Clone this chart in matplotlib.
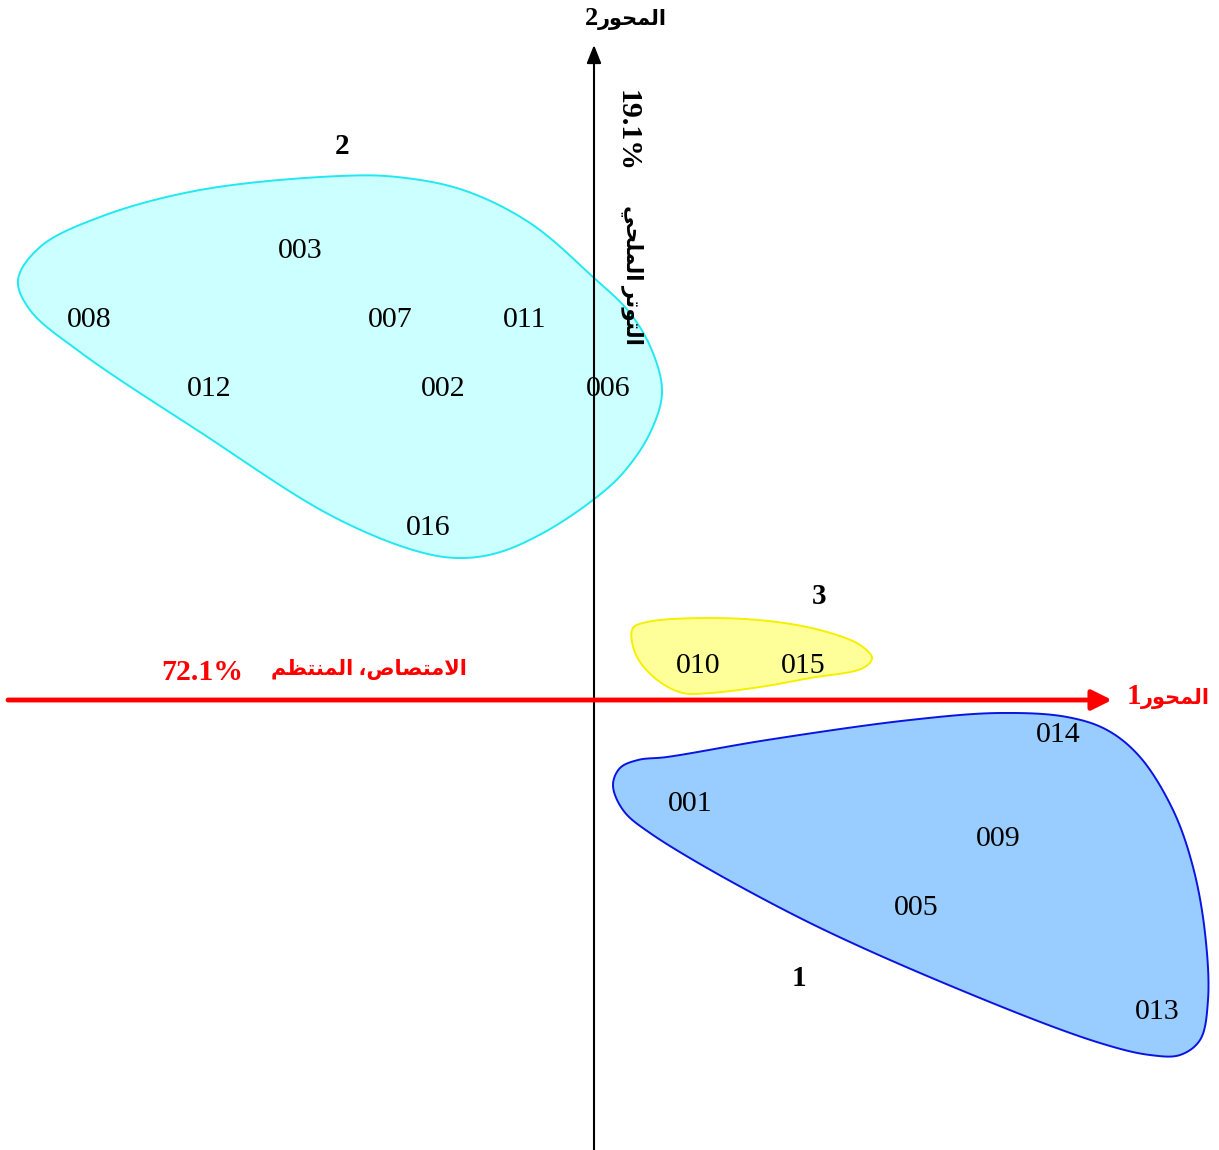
import numpy as np
import matplotlib
matplotlib.use("Agg")
import matplotlib.pyplot as plt
from matplotlib.patches import Polygon

# individuals on the first factorial plane (axis1, axis2)
names = ["003", "008", "007", "011", "012", "002", "006", "016",
         "010", "015", "014", "001", "009", "005", "013"]
axis1 = [-2.94, -5.05, -2.04, -0.69, -3.85, -1.51, 0.14, -1.66,
         1.04, 2.09, 4.64, 0.96, 4.04, 3.22, 5.63]
axis2 = [4.49, 3.80, 3.80, 3.80, 3.11, 3.11, 3.11, 1.72,
         0.34, 0.34, -0.35, -1.04, -1.39, -2.08, -3.12]

# group labels
group_names = ["1", "2", "3"]
group_x = [2.05, -2.52, 2.25]
group_y = [-2.78, 5.53, 1.03]

# hand drawn envelopes around each group
hull_1 = [(0.44, -0.60), (0.73, -0.57), (1.73, -0.40), (3.16, -0.20), (4.06, -0.13),
          (4.73, -0.17), (5.13, -0.30), (5.46, -0.57), (5.79, -1.10), (5.99, -1.67),
          (6.11, -2.33), (6.14, -3.00), (6.06, -3.40), (5.86, -3.55), (5.56, -3.55),
          (5.06, -3.43), (3.86, -2.98), (2.06, -2.18), (0.56, -1.33), (0.29, -1.10),
          (0.19, -0.85), (0.26, -0.68)]
hull_2 = [(-5.76, 4.20), (-5.54, 4.53), (-4.94, 4.83), (-3.94, 5.10), (-2.54, 5.24),
          (-1.97, 5.23), (-1.31, 5.10), (-0.64, 4.77), (-0.01, 4.23), (0.36, 3.87),
          (0.59, 3.47), (0.68, 3.07), (0.56, 2.67), (0.29, 2.27), (-0.01, 2.00),
          (-0.51, 1.67), (-0.97, 1.47), (-1.37, 1.42), (-1.81, 1.50), (-2.64, 1.85),
          (-3.94, 2.68), (-5.14, 3.48), (-5.64, 3.90)]
hull_3 = [(0.39, 0.72), (0.53, 0.78), (1.16, 0.82), (1.83, 0.78), (2.33, 0.68),
          (2.66, 0.55), (2.78, 0.42), (2.69, 0.32), (2.16, 0.22), (1.66, 0.13),
          (1.16, 0.07), (0.89, 0.07), (0.66, 0.18), (0.46, 0.38), (0.38, 0.58)]

inertia_1 = "72.1%"
inertia_2 = "19.1%"

# arabic strings already shaped (presentation forms) and in visual order
mihwar = "\ufead\ufeee\ufea4\ufee4\ufedf\ufe8d"             # المحور
imtisas = "\ufeb9\ufe8e\ufebc\ufe98\ufee3\ufefb\ufe8d"       # الامتصاص
muntadhim = "\ufee2\ufec8\ufe98\ufee8\ufee4\ufedf\ufe8d"     # المنتظم
tawattur = "\ufeae\ufe97\ufeee\ufe98\ufedf\ufe8d"            # التوتر
milhi = "\ufef2\ufea4\ufee0\ufee4\ufedf\ufe8d"               # الملحي


def closed_spline(pts, n=25):
    """Periodic centripetal Catmull-Rom curve through the points."""
    p = np.array(pts, dtype=float)
    m = len(p)
    out = []
    for i in range(m):
        p0, p1, p2, p3 = p[i - 1], p[i], p[(i + 1) % m], p[(i + 2) % m]
        t0 = 0.0
        t1 = t0 + np.linalg.norm(p1 - p0) ** 0.5
        t2 = t1 + np.linalg.norm(p2 - p1) ** 0.5
        t3 = t2 + np.linalg.norm(p3 - p2) ** 0.5
        t = np.linspace(t1, t2, n, endpoint=False)[:, None]
        a1 = (t1 - t) / (t1 - t0) * p0 + (t - t0) / (t1 - t0) * p1
        a2 = (t2 - t) / (t2 - t1) * p1 + (t - t1) / (t2 - t1) * p2
        a3 = (t3 - t) / (t3 - t2) * p2 + (t - t2) / (t3 - t2) * p3
        b1 = (t2 - t) / (t2 - t0) * a1 + (t - t0) / (t2 - t0) * a2
        b2 = (t3 - t) / (t3 - t1) * a2 + (t - t1) / (t3 - t1) * a3
        out.append((t2 - t) / (t2 - t1) * b1 + (t - t1) / (t2 - t1) * b2)
    return np.vstack(out)


fam = ["Liberation Serif", "DejaVu Sans"]

fig = plt.figure(figsize=(12.19, 11.5), dpi=100)
ax = fig.add_axes([0, 0, 1, 1])
ax.set_xlim(-5.94, 6.25)
ax.set_ylim(-4.5, 7.0)
ax.axis("off")

# envelopes
for hull, fc, ec in [(hull_2, "#ccffff", "#22e8f0"),
                     (hull_3, "#ffff99", "#f5f000"),
                     (hull_1, "#99ccff", "#0a14e0")]:
    ax.add_patch(Polygon(closed_spline(hull), closed=True, facecolor=fc,
                         edgecolor=ec, lw=1.4, zorder=1))

# axes
ax.annotate("", xy=(0, 6.55), xytext=(0, -4.5),
            arrowprops=dict(arrowstyle="-|>,head_length=0.55,head_width=0.22",
                            color="black", lw=1.5, mutation_scale=20,
                            shrinkA=0, shrinkB=0), zorder=2)
ax.annotate("", xy=(5.18, 0), xytext=(-5.86, 0),
            arrowprops=dict(arrowstyle="-|>,head_length=0.6,head_width=0.3",
                            color="red", lw=3.5, mutation_scale=20,
                            shrinkA=0, shrinkB=0), zorder=3)

# individuals
for nm, x, y in zip(names, axis1, axis2):
    ax.text(x, y, nm, family=fam, fontsize=21.5, ha="center", va="center", zorder=4)

for nm, x, y in zip(group_names, group_x, group_y):
    ax.text(x, y, nm, family=fam, fontsize=21, weight="bold",
            ha="center", va="center", zorder=4)

# axis titles
ax.text(0.04, 6.75, "2", family=fam, fontsize=19, weight="bold",
        ha="right", va="baseline")
ax.text(0.04, 6.75, mihwar, family=fam, fontsize=15, weight="bold",
        ha="left", va="baseline")
ax.text(5.47, -0.04, "1", family=fam, fontsize=21, weight="bold",
        color="red", ha="right", va="baseline")
ax.text(5.47, -0.04, mihwar, family=fam, fontsize=15, weight="bold",
        color="red", ha="left", va="baseline")
ax.text(-3.92, 0.28, inertia_1, family=fam, fontsize=21.5, weight="bold",
        color="red", ha="center", va="center")
ax.text(-2.25, 0.30, muntadhim + " \u060c" + imtisas, family=fam, fontsize=15,
        weight="bold", color="red", ha="center", va="center")
ax.text(0.33, 5.69, inertia_2, family=fam, fontsize=21.5, weight="bold",
        rotation=-90, ha="center", va="center")
ax.text(0.38, 4.25, milhi + " " + tawattur, family=fam, fontsize=15.5,
        weight="bold", rotation=-90, ha="center", va="center", zorder=5)

fig.savefig("out.png", dpi=100)
